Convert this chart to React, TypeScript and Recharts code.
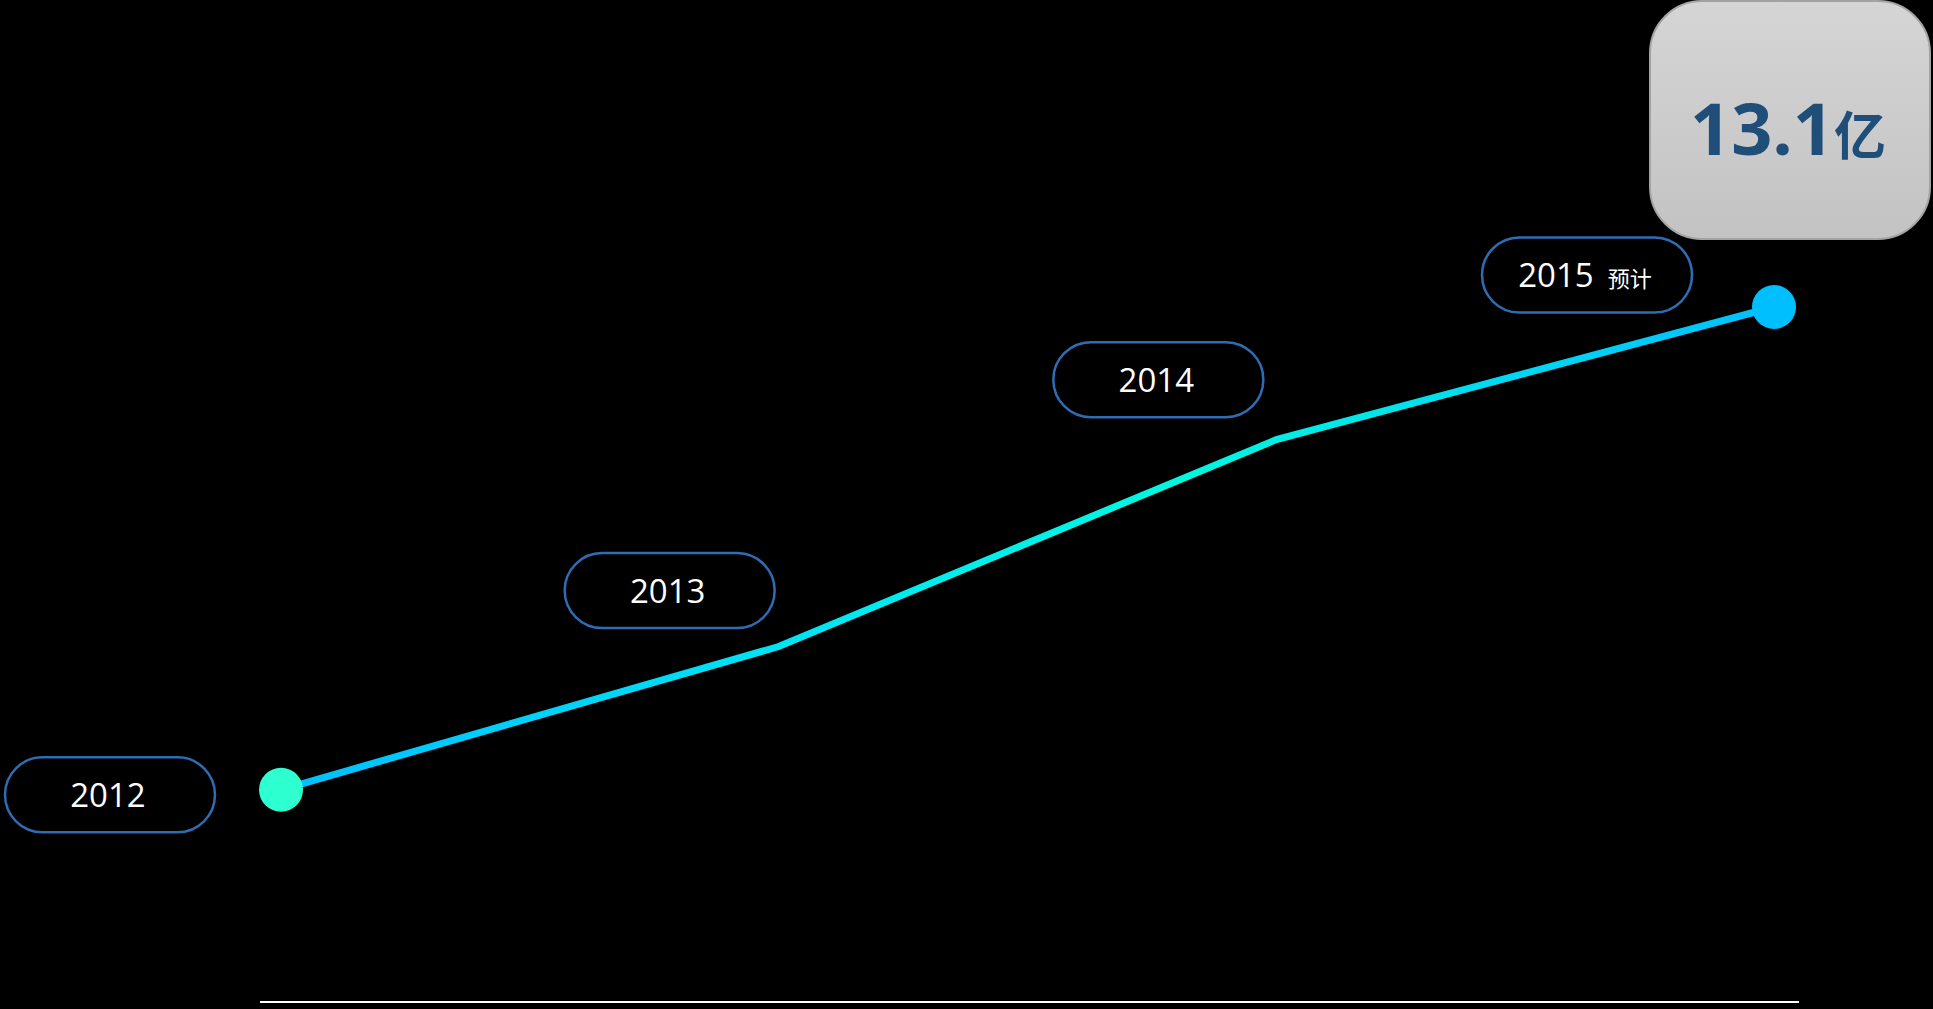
import { LineChart, Line, XAxis, YAxis, LabelList } from 'recharts'

const years = ['2012', '2013', '2014', '2015']
const yearNotes = ['', '', '', '预计']
const values = [4.0, 6.7, 10.6, 13.1]
const highlightValue = '13.1'
const highlightUnit = '亿'

const data = years.map((year, i) => ({ year, note: yearNotes[i], value: values[i] }))

// pill centre offsets from each point
const pillOffsets = [
  [-171, 5],
  [-109, -56],
  [-118, -60],
  [-187, -32],
]

const FONT = '"Open Sans", "Noto Sans", "Noto Sans CJK SC", sans-serif'

function YearPill(props: any) {
  const { x, y, index } = props
  const d = data[index]
  const [dx, dy] = pillOffsets[index]
  const cx = x + dx
  const cy = y + dy
  const w = 210
  const h = 75
  const last = index === data.length - 1
  return (
    <g>
      <rect x={cx - w / 2} y={cy - h / 2} width={w} height={h} rx={h / 2} fill="#000" stroke="#2e6db4" strokeWidth={2.5} />
      {d.note ? (
        <text x={cx - 2} y={cy + 12} textAnchor="middle" fill="#fff" fontFamily={FONT}>
          <tspan fontSize={33}>{d.year}</tspan>
          <tspan fontSize={22} dx={14}>{d.note}</tspan>
        </text>
      ) : (
        <text x={cx - 2} y={cy + 12} textAnchor="middle" fill="#fff" fontSize={33} fontFamily={FONT}>{d.year}</text>
      )}
      {last && (
        <g>
          <rect x={x - 124} y={y - 306} width={280} height={238} rx={52} fill="url(#boxFill)" stroke="#a3a3a3" strokeWidth={2} />
          <text x={x + 14} y={y - 152} textAnchor="middle" fill="#1f4e79" fontWeight="bold" fontFamily={FONT}>
            <tspan fontSize={72}>{highlightValue}</tspan>
            <tspan fontSize={52}>{highlightUnit}</tspan>
          </text>
        </g>
      )}
    </g>
  )
}

function EndDot(props: any) {
  const { cx, cy, index } = props
  if (index === 0) return <circle key={index} cx={cx} cy={cy} r={22} fill="#2effd0" />
  if (index === data.length - 1) return <circle key={index} cx={cx} cy={cy} r={22} fill="#00bfff" />
  return <g key={index} />
}

export default function App() {
  return (
    <div style={{ position: 'absolute', left: 0, top: 0, width: 1933, height: 1009, background: '#000', overflow: 'hidden' }}>
      <LineChart width={1933} height={1009} data={data} margin={{ top: 307, right: 134, bottom: 3, left: 260 }}>
        <defs>
          <linearGradient id="lineFill" x1="0" y1="0" x2="1" y2="0">
            <stop offset="0%" stopColor="#00bfff" />
            <stop offset="40%" stopColor="#00eaf0" />
            <stop offset="60%" stopColor="#00f8e0" />
            <stop offset="100%" stopColor="#00bfff" />
          </linearGradient>
          <linearGradient id="boxFill" x1="0" y1="0" x2="0" y2="1">
            <stop offset="0%" stopColor="#d5d5d5" />
            <stop offset="100%" stopColor="#c3c3c3" />
          </linearGradient>
        </defs>
        <XAxis dataKey="year" height={4} tick={false} tickLine={false} axisLine={{ stroke: '#fff', strokeWidth: 2 }} padding={{ left: 21, right: 25 }} />
        <YAxis hide domain={[0, 13.1]} />
        <Line
          type="linear"
          dataKey="value"
          stroke="url(#lineFill)"
          strokeWidth={7}
          dot={EndDot}
          activeDot={false}
          isAnimationActive={false}
        >
          <LabelList dataKey="year" content={YearPill} />
        </Line>
      </LineChart>
    </div>
  )
}
